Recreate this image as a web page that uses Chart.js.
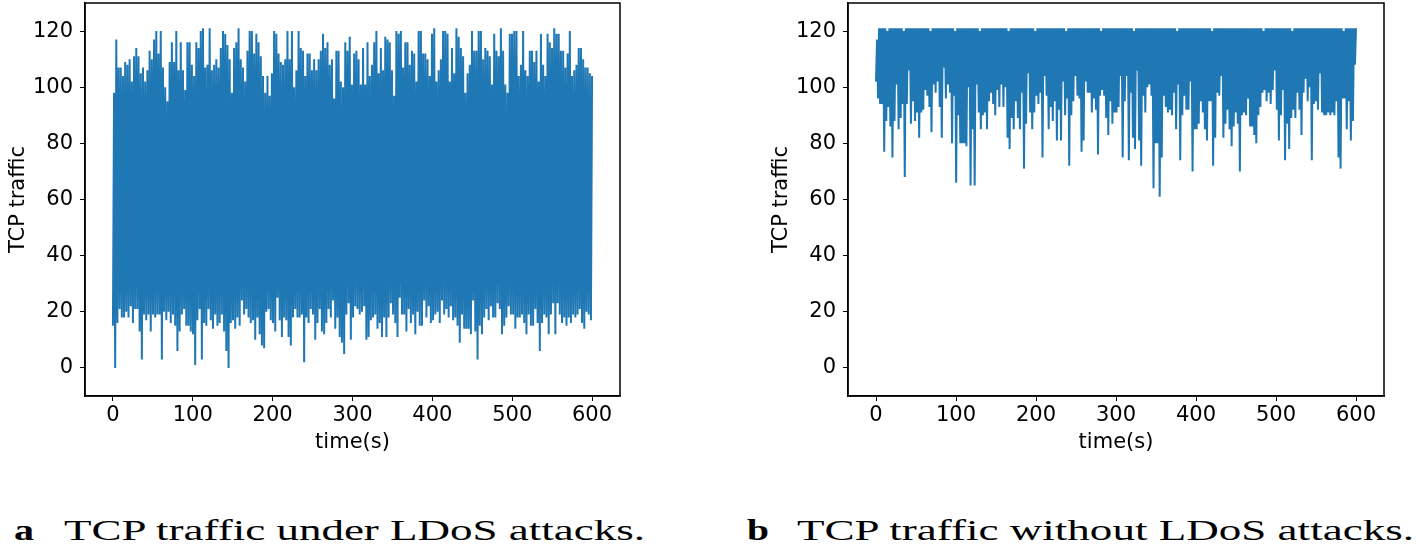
<!DOCTYPE html>
<html><head><meta charset="utf-8">
<script src="https://cdn.jsdelivr.net/npm/chart.js@4/dist/chart.umd.min.js"></script>
<style>
html,body{margin:0;padding:0;background:#fff;width:1419px;height:549px;overflow:hidden;position:relative;}
canvas{position:absolute;top:0;}
#ca{left:0;}
#cb{left:763px;}
.cap{position:absolute;font-family:"Liberation Serif","DejaVu Serif",serif;font-size:30px;line-height:30px;color:#000;white-space:nowrap;top:515px;transform-origin:0 0;}
.cap b{font-weight:bold;}
</style></head>
<body>
<canvas id="ca" width="700" height="457"></canvas>
<canvas id="cb" width="656" height="457"></canvas>
<div class="cap" id="capa" style="left:14px" data-w="20"><b>a</b></div>
<div class="cap" id="capA" style="left:64px" data-w="581">TCP traffic under LDoS attacks.</div>
<div class="cap" id="capb" style="left:747px" data-w="22"><b>b</b></div>
<div class="cap" id="capB" style="left:797px" data-w="617">TCP traffic without LDoS attacks.</div>
<script>
// ---- data ----
const timeTicks = [0, 100, 200, 300, 400, 500, 600];
const trafficTicks = [0, 20, 40, 60, 80, 100, 120];

// Panel a: upper spikes and lower spikes of the traffic trace, in time order
const attackPeaks = [
 98,117,107,107,104,109,108,110,102,111,
 114,111,105,107,102,106,113,110,117,120,
 112,120,107,100,95,109,116,109,120,106,
 116,106,99,116,116,108,104,116,114,120,
 121,107,108,121,106,108,110,107,114,120,
 119,115,110,98,114,116,121,110,107,102,
 113,120,120,112,119,116,111,104,98,104,
 97,105,120,119,112,109,108,110,120,110,
 120,100,106,120,114,113,104,112,112,106,
 110,106,110,113,119,114,116,108,110,96,
 113,113,102,100,116,113,118,101,112,113,
 110,101,114,101,116,104,108,116,120,105,
 114,106,118,117,116,106,97,120,119,120,
 107,116,116,108,113,112,102,120,120,112,
 112,110,104,119,121,102,106,110,120,120,
 119,102,114,105,121,118,114,111,98,105,
 108,120,113,113,120,120,110,114,113,111,
 101,119,113,111,121,113,101,98,119,119,
 120,120,104,108,120,106,104,113,113,109,
 113,102,119,108,104,119,116,114,121,119,
 119,113,113,107,112,120,104,106,108,114,
 114,110,107,107,105,104,103
];
const attackTroughs = [
 15,0,16,21,18,18,20,18,22,16,
 21,21,13,3,19,17,19,13,19,18,
 19,19,3,20,17,20,16,19,15,6,
 13,19,21,15,15,13,12,1,17,21,
 3,16,15,21,17,14,19,15,16,19,
 13,6,0,16,17,14,18,15,24,19,
 21,18,16,17,10,18,12,8,7,20,
 21,17,16,13,25,17,11,18,17,11,
 8,18,21,18,18,19,2,18,16,21,
 19,10,16,21,13,12,16,21,18,24,
 14,18,11,9,5,19,23,10,18,22,
 21,19,
 20,22,10,11,17,18,19,14,16,11,
 18,11,18,23,19,16,11,25,19,19,13,
 21,16,19,12,20,15,15,24,18,22,
 16,17,19,20,16,24,19,21,18,22,17,
 18,15,9,19,14,14,14,12,24,13,
 3,15,12,18,21,17,22,18,18,23,21,
 12,15,18,22,19,19,14,18,18,19,
 16,12,19,15,15,21,16,6,16,19,18,
 12,19,23,12,23,19,16,18,15,18,
 16,19,18,19,21,16,14,20,19,17
];

// Panel b
const normalPeaks = [
 117,121,121,121,121,120,121,121,121,121,
 121,121,121,120,121,121,121,121,121,121,
 121,121,121,121,121,121,120,121,121,121,
 121,121,121,121,121,121,121,121,120,121,
 121,121,121,121,121,121,121,121,121,121,
 120,121,121,121,121,121,121,121,121,121,
 121,121,121,121,120,121,121,121,121,121,
 121,121,121,121,121,121,121,120,121,121,
 121,121,121,121,121,121,121,121,121,121,
 121,121,120,121,121,121,121,121,121,121,
 121,121,121,121,121,121,121,121,121,120,
 121,121,121,121,121,121,121,121,121,121,
 121,121,121,121,121,120,121,121,121,121,
 121,121,121,121,121,121,121,121,121,121,
 121,121,121,121,121,121,120,121,121,121,
 121,121,121,121,121,121,121,121,121,121,
 121,121,121,120,121,121,121,121,121,121,
 121,121,121,121,121,121,121,121,121,121,
 121,121,121,121,121,121,121,121,120,121,
 121,121,121,121,121,121,121,121,121,121,
 121,121,120,121,121,121,121,121,121,121,
 121,121,121,121,121,121,121,121,121,121,
 121,121,121,121,121,121,121,120,121,121,
 121,121,121,121
];
const normalTroughs = [
 102,96,94,94,77,88,93,86,75,88,
 101,85,89,94,68,94,106,87,95,88,
 91,82,91,92,99,97,93,84,101,98,
 102,93,82,107,96,101,98,80,97,66,
 90,80,80,80,79,100,65,85,65,101,
 91,85,90,91,85,95,98,94,90,99,
 93,101,93,100,82,78,89,85,95,89,
 85,98,71,87,105,91,85,91,97,94,
 98,75,104,97,85,93,88,95,81,92,
 81,102,90,96,72,90,95,104,97,96,
 77,81,102,98,98,91,96,92,76,97,
 99,97,89,83,95,87,91,
 91,93,104,75,95,104,74,98,82,78,
 106,81,72,97,91,100,101,97,64,80,
 80,61,75,97,93,91,92,90,98,85,
 101,74,90,97,92,92,102,70,85,85,
 87,95,91,85,81,95,95,72,82,98,
 97,104,82,87,92,85,79,86,91,87,
 70,90,91,90,96,86,86,83,80,90,
 93,98,99,95,98,94,99,106,92,81,
 90,99,74,87,78,89,92,89,98,92,
 83,98,103,95,100,74,94,95,92,105,
 91,90,90,91,90,91,90,95,75,71,
 96,96,85,95,81,88,108
];
const DURATION = 600;

// ---- build the trace: alternate trough / peak samples, evenly spaced in time ----
function buildTrace(peaks, troughs) {
  const n = Math.min(peaks.length, troughs.length);
  const step = DURATION / (2 * n - 1);
  const pts = [];
  for (let i = 0; i < n; i++) {
    pts.push({x: step * (2 * i), y: troughs[i]});
    pts.push({x: step * (2 * i + 1), y: peaks[i]});
  }
  return pts;
}

const boxPlugin = {
  id: 'box',
  afterDraw(c) {
    const {ctx, chartArea: a} = c;
    ctx.save();
    ctx.strokeStyle = '#000';
    ctx.lineWidth = 1.5;
    ctx.strokeRect(a.left, a.top, a.right - a.left, a.bottom - a.top);
    ctx.restore();
  }
};

const FONT = {family: 'DejaVu Sans', size: 21};

function makeChart(id, peaks, troughs, rightPad) {
  return new Chart(document.getElementById(id), {
    type: 'line',
    data: {datasets: [{
      data: buildTrace(peaks, troughs),
      borderColor: '#1f77b4',
      borderWidth: 2,
      pointRadius: 0,
      fill: false,
      tension: 0,
      borderJoinStyle: 'miter'
    }]},
    options: {
      responsive: false,
      animation: false,
      events: [],
      layout: {padding: {top: 3, right: rightPad, left: 2, bottom: 0}},
      plugins: {legend: {display: false}, tooltip: {enabled: false}},
      scales: {
        x: {
          type: 'linear', min: -35, max: 635,
          afterBuildTicks(s) { s.ticks = timeTicks.map(v => ({value: v})); },
          afterFit(s) { s.height = 61; s.paddingLeft = 0; s.paddingRight = 0; },
          grid: {drawOnChartArea: false, drawTicks: true, tickLength: 5, color: '#000', lineWidth: 1},
          border: {display: true, color: '#000', width: 1.5},
          ticks: {color: '#000', font: FONT, padding: 2, maxRotation: 0, autoSkip: false},
          title: {display: true, text: 'time(s)', color: '#000', font: FONT, padding: {top: 0, bottom: 2}}
        },
        y: {
          type: 'linear', min: -10, max: 130,
          afterBuildTicks(s) { s.ticks = trafficTicks.map(v => ({value: v})); },
          afterFit(s) { s.width = 83; s.paddingTop = 0; s.paddingBottom = 0; },
          grid: {drawOnChartArea: false, drawTicks: true, tickLength: 5, color: '#000', lineWidth: 1},
          border: {display: true, color: '#000', width: 1.5},
          ticks: {color: '#000', font: FONT, padding: 7, autoSkip: false},
          title: {display: true, text: 'TCP traffic', color: '#000', font: FONT, padding: {top: 4, bottom: 0}}
        }
      }
    },
    plugins: [boxPlugin]
  });
}

makeChart('ca', attackPeaks, attackTroughs, 80);
makeChart('cb', normalPeaks, normalTroughs, 35);

// stretch captions horizontally to the reference width
['capa', 'capA', 'capb', 'capB'].forEach(id => {
  const el = document.getElementById(id);
  const target = +el.dataset.w;
  const w = el.getBoundingClientRect().width;
  el.style.transform = 'scaleX(' + (target / w) + ')';
});
</script>
</body></html>
